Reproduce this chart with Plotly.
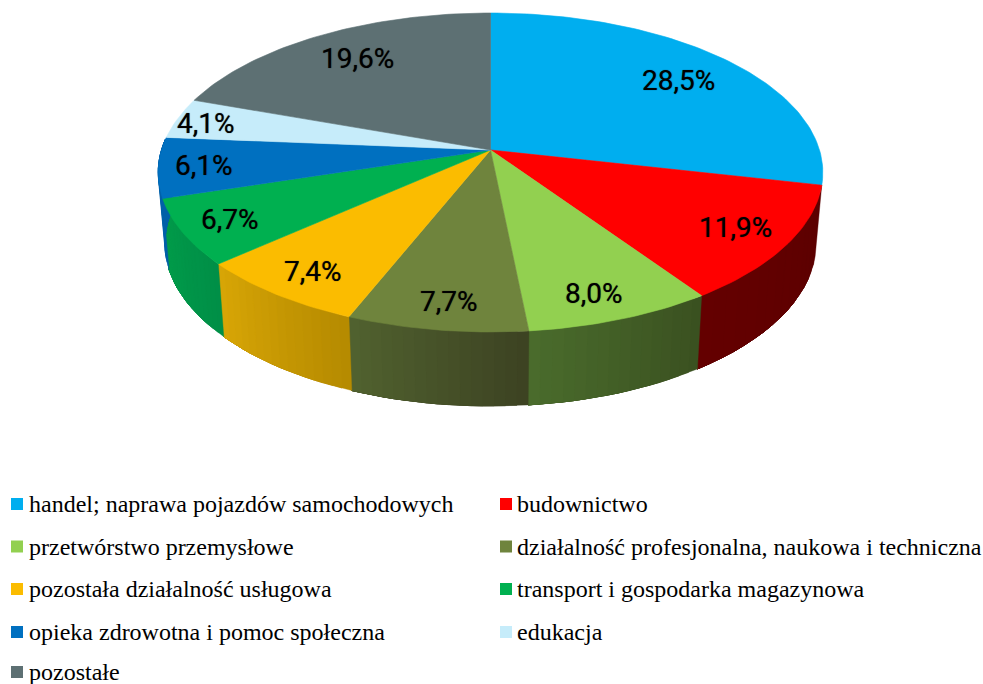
import math
import plotly.graph_objects as go

categories = ["handel; naprawa pojazdów samochodowych", "budownictwo", "przetwórstwo przemysłowe",
              "działalność profesjonalna, naukowa i techniczna", "pozostała działalność usługowa",
              "transport i gospodarka magazynowa", "opieka zdrowotna i pomoc społeczna", "edukacja", "pozostałe"]
values = [28.5, 11.9, 8.0, 7.7, 7.4, 6.7, 6.1, 4.1, 19.6]
top_colors = ["#00AEEF", "#FF0000", "#92D050", "#6F843D", "#FBBC00", "#00B050", "#0070C0", "#C6ECFA", "#5D7073"]
# side shading: (left colour, right colour); None where the side is hidden
side_colors = [None, ("#640000", "#5C0000"), ("#4A6C2C", "#3A5020"), ("#51622F", "#3C4222"),
               ("#D8A606", "#B58A00"), ("#009C4A", "#008F47"), ("#0060A8", "#0060A8"), None, None]
# label nudges away from the mid-angle anchor
label_nudge = [(-4, 4), (12, 3), (2, 12), (0, 12), (-10, 9), (-18, 5), (-22, 2), (-33, -1), (6, 2)]

CX, CY, A, B, K = 490.5, 150, 329, 156.3, 0.141
DEPTH, SX, SY = 70.4, 0.98, 1.02


def top(theta, r=1.0):
    u, v = r * math.sin(theta), -r * math.cos(theta)
    d = 1 - K * v
    return CX + A * u / d, CY + B * v / d


def bottom(theta):
    x, y = top(theta)
    return CX + SX * (x - CX), CY + DEPTH + SY * (y - CY)


def mix(c1, c2, t):
    a = [int(c1[i:i + 2], 16) for i in (1, 3, 5)]
    b = [int(c2[i:i + 2], 16) for i in (1, 3, 5)]
    return "rgb(%d,%d,%d)" % tuple(round(p + (q - p) * t) for p, q in zip(a, b))


def poly(xs, ys, color, name, lw=0.6):
    return go.Scatter(x=xs, y=ys, mode="lines", fill="toself", fillcolor=color,
                      line=dict(color=color, width=lw), name=name, hoverinfo="name", showlegend=False)


fig = go.Figure()
total = sum(values)
edges = [0.0]
for val in values:
    edges.append(edges[-1] + val / total * 2 * math.pi)

# sides: each band runs on to the end of its slice, so bands overlap and leave no seams
for i, shade in enumerate(side_colors):
    if shade is None:
        continue
    a0, a1 = edges[i], min(edges[i + 1], math.radians(274))
    n = 16
    for j in range(n):
        t0 = a0 + (a1 - a0) * j / n
        m = n - j
        arc = [t0 + (a1 - t0) * s / m for s in range(m + 1)]
        pts = [top(t) for t in arc] + [bottom(t) for t in reversed(arc)]
        c = mix(shade[1], shade[0], (j + 0.5) / n)
        fig.add_trace(poly([p[0] for p in pts] + [pts[0][0]], [p[1] for p in pts] + [pts[0][1]], c,
                           categories[i], 0.4))

# top faces
for i in range(len(values)):
    n = max(8, int(values[i] * 3))
    pts = [(CX, CY)] + [top(edges[i] + (edges[i + 1] - edges[i]) * s / n) for s in range(n + 1)] + [(CX, CY)]
    fig.add_trace(poly([p[0] for p in pts], [p[1] for p in pts], top_colors[i], categories[i]))

annotations = []
# value labels
for i, val in enumerate(values):
    x, y = top((edges[i] + edges[i + 1]) / 2, 0.8)
    annotations.append(dict(x=x + label_nudge[i][0], y=y + label_nudge[i][1], text=f"{val:.1f}%".replace(".", ","),
                            showarrow=False, xanchor="center", yanchor="middle",
                            font=dict(family="Roboto", size=28, weight=400, color="#000000",
                                      shadow="0 0 1px rgba(0,0,0,0.7)")))

# legend
rows_y = [504, 546.5, 589, 632, 672]
cols = [(17, 29), (506, 517)]
for i, name in enumerate(categories):
    sq_x, tx_x = cols[i % 2]
    y = rows_y[i // 2]
    fig.add_trace(go.Scatter(x=[sq_x], y=[y], mode="markers", name=name, hoverinfo="name", showlegend=False,
                             marker=dict(symbol="square", size=12, color=top_colors[i])))
    annotations.append(dict(x=tx_x, y=y, text=name, showarrow=False, xanchor="left", yanchor="middle",
                            xshift=-2, font=dict(family="Liberation Serif", size=24, color="#000000")))

fig.update_layout(width=983, height=684, margin=dict(l=0, r=0, t=0, b=0), paper_bgcolor="white",
                  plot_bgcolor="white", showlegend=False, annotations=annotations,
                  xaxis=dict(range=[0, 983], visible=False, fixedrange=True),
                  yaxis=dict(range=[684, 0], visible=False, fixedrange=True))
fig.write_html("out.html", config=dict(displayModeBar=False), post_script="document.body.style.margin='0';")
